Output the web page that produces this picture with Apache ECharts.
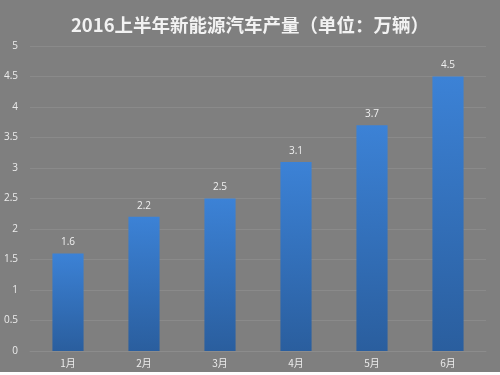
<!DOCTYPE html>
<html><head><meta charset="utf-8">
<script src="https://cdn.jsdelivr.net/npm/echarts@6/dist/echarts.min.js"></script>
<style>html,body{margin:0;padding:0;background:#ffffff;}#c{width:500px;height:372px;}</style>
</head><body><div id="c"></div>
<script>
const titleText = '2016上半年新能源汽车产量（单位：万辆）';
const categories = ['1月','2月','3月','4月','5月','6月'];
const values = [1.6, 2.2, 2.5, 3.1, 3.7, 4.5];
const yTicks = [0, 0.5, 1, 1.5, 2, 2.5, 3, 3.5, 4, 4.5, 5];

const chart = echarts.init(document.getElementById('c'));
chart.setOption({
  backgroundColor: '#7f7f7f',
  animation: false,
  title: {
    text: titleText, left: 'center', top: 11,
    textStyle: {color: '#f2f2f2', fontSize: 18.5, fontWeight: 'bold', fontFamily: '"Noto Sans CJK SC", "Open Sans", sans-serif'}
  },
  grid: {left: 30, right: 14, top: 46, bottom: 21},
  xAxis: {
    type: 'category', data: categories,
    axisLine: {show: true, lineStyle: {color: '#8c8c8c'}},
    axisTick: {show: false},
    axisLabel: {color: '#ececec', fontSize: 10, margin: 7, fontFamily: '"Noto Sans CJK SC", sans-serif'}
  },
  yAxis: {
    type: 'value', min: yTicks[0], max: yTicks[yTicks.length-1], interval: 0.5,
    axisLine: {show: false}, axisTick: {show: false},
    axisLabel: {color: '#ececec', fontSize: 10, margin: 12, fontFamily: '"Open Sans", sans-serif'},
    splitLine: {lineStyle: {color: '#8a8a8a', width: 1}}
  },
  series: [{
    type: 'bar', data: values, barWidth: '41%',
    itemStyle: {color: new echarts.graphic.LinearGradient(0,0,0,1,[
      {offset: 0, color: '#3c82d6'}, {offset: 1, color: '#2a5e9e'}])},
    label: {show: true, position: 'top', color: '#f0f0f0', fontSize: 10, distance: 6, fontFamily: '"Open Sans", sans-serif'}
  }]
});
</script></body></html>
